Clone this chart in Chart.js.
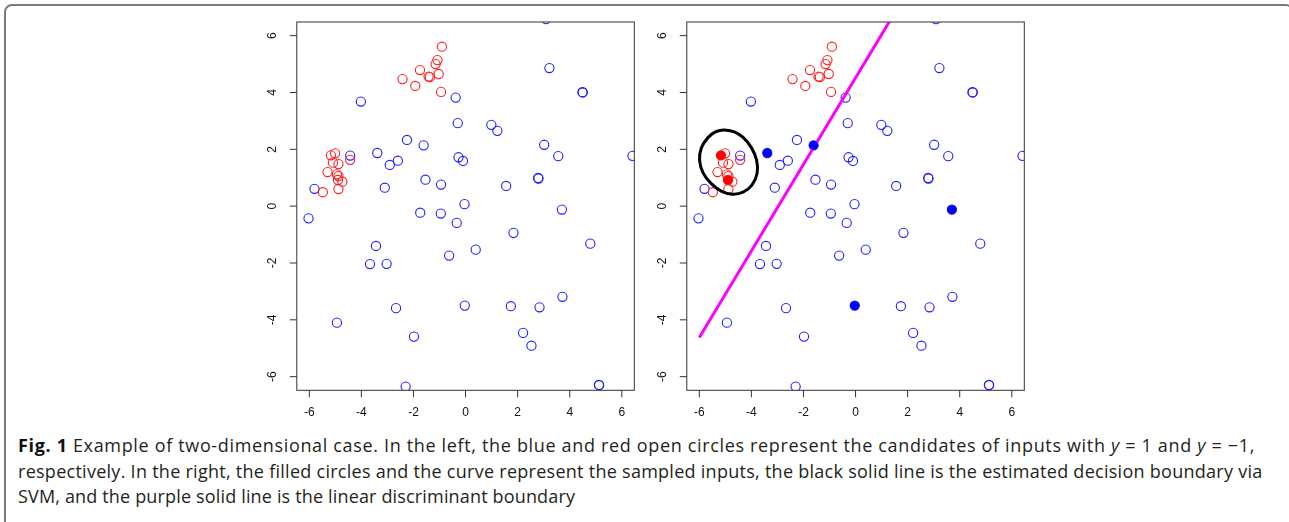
<!DOCTYPE html>
<html>
<head>
<meta charset="utf-8">
<script src="https://cdn.jsdelivr.net/npm/chart.js@4/dist/chart.umd.min.js"></script>
<style>
  html, body { margin: 0; padding: 0; background: #fff; }
  body { width: 1289px; height: 522px; position: relative; overflow: hidden; }
  #frame {
    position: absolute; left: 4px; top: 4px; width: 1288px; height: 540px;
    border: 2px solid #7a7a7a; border-top-left-radius: 8px; border-top-right-radius: 6px;
    box-sizing: border-box;
  }
  canvas { position: absolute; top: 0; }
  #leftPlot { left: 240px; }
  #rightPlot { left: 629.7px; }
  #caption {
    position: absolute; left: 18px; top: 433px;
    font-family: "Open Sans", sans-serif; font-size: 18px;
    line-height: 25.5px; color: #231f20; white-space: nowrap;
  }
  #caption b { color: #111; }
  #caption .l1 { letter-spacing: 0.66px; }
  #caption .l2 { letter-spacing: 0.27px; }
  #caption .l3 { letter-spacing: 0.16px; }
</style>
</head>
<body>
<div id="frame"></div>
<canvas id="leftPlot" width="400" height="430"></canvas>
<canvas id="rightPlot" width="400" height="430"></canvas>
<div id="caption">
  <div class="l1"><b>Fig. 1</b> Example of two-dimensional case. In the left, the blue and red open circles represent the candidates of inputs with <i>y</i> = 1 and <i>y</i> = −1,</div>
  <div class="l2">respectively. In the right, the filled circles and the curve represent the sampled inputs, the black solid line is the estimated decision boundary via</div>
  <div class="l3">SVM, and the purple solid line is the linear discriminant boundary</div>
</div>
<script>
const tickValues = [-6, -4, -2, 0, 2, 4, 6];
const axisMin = -6.48;
const axisMax = 6.48;

// candidates with y = 1
const blueX = [3.09, 3.22, 4.49, 4.50, -0.38, -4.02, -0.30, 0.99, 1.22, -2.25, -1.61, 3.02, -3.39, -4.43,
  -0.27, -0.10, 3.56, 6.41, -2.60, -2.91, -1.54, -0.94, 1.56, 2.79, 2.80, -3.10, -5.80, -6.03, -0.04,
  -1.74, -0.95, -0.34, 3.70, 1.84, -3.44, 0.39, -0.63, 4.79, -3.67, -3.03, 3.72, -2.67, -0.03, 1.74,
  2.84, -4.94, -1.98, 2.21, 2.53, -2.30, 5.12, 5.13];
const blueY = [6.58, 4.86, 4.01, 4.00, 3.82, 3.68, 2.92, 2.86, 2.65, 2.33, 2.14, 2.16, 1.87, 1.78,
  1.72, 1.59, 1.76, 1.77, 1.60, 1.45, 0.93, 0.76, 0.71, 0.99, 0.97, 0.65, 0.61, -0.43, 0.07,
  -0.23, -0.26, -0.59, -0.12, -0.94, -1.40, -1.53, -1.74, -1.32, -2.04, -2.03, -3.19, -3.59, -3.50, -3.52,
  -3.56, -4.10, -4.59, -4.46, -4.91, -6.35, -6.29, -6.30];

// candidates with y = -1
const redX = [-0.91, -1.08, -1.15, -1.03, -1.75, -1.42, -1.37, -2.42, -1.93, -0.94,
  -5.01, -5.17, -5.09, -4.88, -5.30, -4.94, -4.88, -4.73, -4.90, -4.88, -5.48, -4.43];
const redY = [5.61, 5.14, 5.00, 4.65, 4.79, 4.56, 4.54, 4.47, 4.23, 4.02,
  1.86, 1.79, 1.53, 1.48, 1.20, 1.12, 1.06, 0.86, 0.92, 0.60, 0.49, 1.63];

// sampled inputs (right panel)
const sampledRedX = [-5.17, -4.90];
const sampledRedY = [1.79, 0.92];
const sampledBlueX = [-3.39, -1.61, 3.70, -0.03];
const sampledBlueY = [1.87, 2.14, -0.12, -3.50];

// linear discriminant boundary
const ldaX = [-6.0, 1.5];
const ldaY = [-4.62, 6.80];

// SVM decision boundary, traced round once with a small overlap so the loop closes smoothly
const svmX = [-5.36, -5.06, -4.68, -4.32, -4.00, -3.80, -3.78, -3.98, -4.32, -4.72, -5.14,
  -5.55, -5.86, -5.99, -5.92, -5.66, -5.36, -5.06, -4.68];
const svmY = [2.62, 2.68, 2.62, 2.42, 2.06, 1.62, 1.16, 0.74, 0.49, 0.42, 0.52,
  0.80, 1.18, 1.62, 2.05, 2.42, 2.62, 2.68, 2.62];

const toPoints = (xs, ys) => xs.map((x, i) => ({ x: x, y: ys[i] }));

function openCircles(xs, ys, color, order) {
    return {
        type: 'scatter',
        data: toPoints(xs, ys),
        pointStyle: 'circle',
        pointRadius: 4.6,
        pointBorderWidth: 1.1,
        pointBorderColor: color,
        pointBackgroundColor: 'rgba(0,0,0,0)',
        order: order
    };
}

function filledCircles(xs, ys, color, order) {
    return {
        type: 'scatter',
        data: toPoints(xs, ys),
        pointStyle: 'circle',
        pointRadius: 4.6,
        pointBorderWidth: 0,
        pointBackgroundColor: color,
        pointBorderColor: color,
        order: order
    };
}

function lineSet(xs, ys, color, width, tension, order) {
    return {
        type: 'line',
        data: toPoints(xs, ys),
        borderColor: color,
        borderWidth: width,
        pointRadius: 0,
        fill: false,
        tension: tension,
        order: order
    };
}

// R-like box, ticks and rotated y labels
const rAxes = {
    id: 'rAxes',
    afterDraw(chart) {
        const ctx = chart.ctx;
        const area = chart.chartArea;
        const xs = chart.scales.x;
        const ys = chart.scales.y;
        ctx.save();
        ctx.strokeStyle = '#333';
        ctx.lineWidth = 1;
        ctx.strokeRect(area.left, area.top, area.right - area.left, area.bottom - area.top);

        ctx.fillStyle = '#111';
        ctx.font = '12px "Liberation Sans", Arial, sans-serif';
        ctx.textAlign = 'center';
        ctx.textBaseline = 'middle';

        tickValues.forEach(v => {
            const px = xs.getPixelForValue(v);
            ctx.beginPath();
            ctx.moveTo(px, area.bottom);
            ctx.lineTo(px, area.bottom + 7);
            ctx.stroke();
            ctx.fillText(String(v), px, area.bottom + 22);

            const py = ys.getPixelForValue(v);
            ctx.beginPath();
            ctx.moveTo(area.left, py);
            ctx.lineTo(area.left - 7, py);
            ctx.stroke();
            ctx.save();
            ctx.translate(area.left - 24, py);
            ctx.rotate(-Math.PI / 2);
            ctx.fillText(String(v), 0, 0);
            ctx.restore();
        });
        ctx.restore();
    }
};

function makeChart(canvasId, datasets) {
    const ctx = document.getElementById(canvasId).getContext('2d');
    return new Chart(ctx, {
        type: 'scatter',
        data: { datasets: datasets },
        options: {
            responsive: false,
            animation: false,
            layout: { padding: { left: 56.8, right: 4.8, top: 22, bottom: 39.7 } },
            scales: {
                x: { type: 'linear', min: axisMin, max: axisMax, display: false },
                y: { type: 'linear', min: axisMin, max: axisMax, display: false }
            },
            plugins: {
                legend: { display: false },
                tooltip: { enabled: false }
            }
        },
        plugins: [rAxes]
    });
}

makeChart('leftPlot', [
    openCircles(blueX, blueY, '#1f1fff', 2),
    openCircles(redX, redY, '#ff1f1f', 1)
]);

makeChart('rightPlot', [
    openCircles(blueX, blueY, '#1f1fff', 6),
    openCircles(redX, redY, '#ff1f1f', 5),
    lineSet(ldaX, ldaY, '#ff00ff', 3, 0, 4),
    filledCircles(sampledBlueX, sampledBlueY, '#0000ff', 3),
    filledCircles(sampledRedX, sampledRedY, '#ff0000', 2),
    lineSet(svmX, svmY, '#000000', 3, 0.4, 1)
]);
</script>
</body>
</html>
